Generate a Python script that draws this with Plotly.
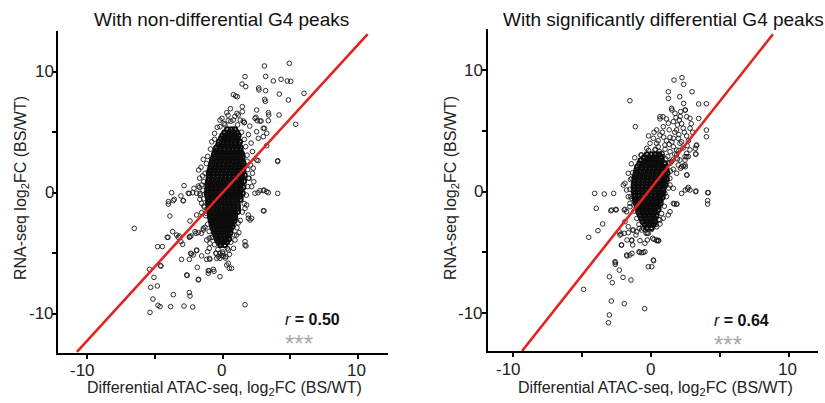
import plotly.graph_objects as go

# ---------------- data ----------------
titles = ["With non-differential G4 peaks", "With significantly differential G4 peaks"]
x_title = "Differential ATAC-seq, log<sub>2</sub>FC (BS/WT)"
y_title = "RNA-seq log<sub>2</sub>FC (BS/WT)"
r_values = ["0.50", "0.64"]
signif = "***"
tick_vals = [-10, 0, 10]
tick_text = ["-10", "0", "10"]
minor_vals = [-5, 5]

# regression lines (end points)
left_fit_x = [-10.75, 10.7]
left_fit_y = [-13.15, 13.1]
right_fit_x = [-9.38, 8.83]
right_fit_y = [-13.13, 12.98]

# dense core of left panel: rows of (y, [x ...])
left_core_rows = [
    (5.2, [0.35, 0.65, 0.9]),
    (4.95, [0.15, 0.45, 0.75, 1.05]),
    (4.7, [0.0, 0.3, 0.6, 0.9, 1.15]),
    (4.45, [-0.1, 0.2, 0.5, 0.8, 1.1]),
    (4.2, [-0.25, 0.05, 0.35, 0.65, 0.95, 1.25]),
    (3.95, [-0.3, 0.0, 0.3, 0.6, 0.9, 1.2]),
    (3.7, [-0.45, -0.15, 0.15, 0.45, 0.75, 1.05, 1.3]),
    (3.45, [-0.5, -0.2, 0.1, 0.4, 0.7, 1.0, 1.3]),
    (3.2, [-0.6, -0.3, 0.0, 0.3, 0.6, 0.9, 1.2, 1.4]),
    (2.95, [-0.65, -0.35, -0.05, 0.25, 0.55, 0.85, 1.15, 1.45]),
    (2.7, [-0.75, -0.45, -0.15, 0.15, 0.45, 0.75, 1.05, 1.35]),
    (2.45, [-0.8, -0.5, -0.2, 0.1, 0.4, 0.7, 1.0, 1.3, 1.5]),
    (2.2, [-0.85, -0.55, -0.25, 0.05, 0.35, 0.65, 0.95, 1.25, 1.55]),
    (1.95, [-0.9, -0.6, -0.3, 0.0, 0.3, 0.6, 0.9, 1.2, 1.5]),
    (1.7, [-0.95, -0.65, -0.35, -0.05, 0.25, 0.55, 0.85, 1.15, 1.45]),
    (1.45, [-1.0, -0.7, -0.4, -0.1, 0.2, 0.5, 0.8, 1.1, 1.4, 1.6]),
    (1.2, [-1.0, -0.7, -0.4, -0.1, 0.2, 0.5, 0.8, 1.1, 1.4]),
    (0.95, [-1.05, -0.75, -0.45, -0.15, 0.15, 0.45, 0.75, 1.05, 1.35, 1.55]),
    (0.7, [-1.1, -0.8, -0.5, -0.2, 0.1, 0.4, 0.7, 1.0, 1.3]),
    (0.45, [-1.1, -0.8, -0.5, -0.2, 0.1, 0.4, 0.7, 1.0, 1.3, 1.5]),
    (0.2, [-1.1, -0.8, -0.5, -0.2, 0.1, 0.4, 0.7, 1.0, 1.3]),
    (-0.05, [-1.15, -0.85, -0.55, -0.25, 0.05, 0.35, 0.65, 0.95, 1.25, 1.45]),
    (-0.3, [-1.1, -0.8, -0.5, -0.2, 0.1, 0.4, 0.7, 1.0, 1.3]),
    (-0.55, [-1.05, -0.75, -0.45, -0.15, 0.15, 0.45, 0.75, 1.05, 1.3]),
    (-0.8, [-1.05, -0.75, -0.45, -0.15, 0.15, 0.45, 0.75, 1.05]),
    (-1.05, [-1.0, -0.7, -0.4, -0.1, 0.2, 0.5, 0.8, 1.1]),
    (-1.3, [-1.0, -0.7, -0.4, -0.1, 0.2, 0.5, 0.8, 1.1]),
    (-1.55, [-0.95, -0.65, -0.35, -0.05, 0.25, 0.55, 0.85, 1.1]),
    (-1.8, [-0.9, -0.6, -0.3, 0.0, 0.3, 0.6, 0.9]),
    (-2.05, [-0.9, -0.6, -0.3, 0.0, 0.3, 0.6, 0.9]),
    (-2.3, [-0.85, -0.55, -0.25, 0.05, 0.35, 0.65, 0.85]),
    (-2.55, [-0.8, -0.5, -0.2, 0.1, 0.4, 0.7]),
    (-2.8, [-0.75, -0.45, -0.15, 0.15, 0.45, 0.7]),
    (-3.05, [-0.65, -0.35, -0.05, 0.25, 0.55]),
    (-3.3, [-0.6, -0.3, 0.0, 0.3, 0.55]),
    (-3.55, [-0.5, -0.2, 0.1, 0.4]),
    (-3.8, [-0.4, -0.1, 0.2, 0.45]),
    (-4.05, [-0.3, 0.0, 0.3]),
    (-4.3, [-0.15, 0.15]),
]

# scattered points of left panel (x, y)
left_points = [
    (4.92, 10.69), (3.08, 10.47), (1.65, 9.59), (3.17, 9.61), (4.31, 9.37), (3.74, 9.23), (4.77, 9.23),
    (5.02, 9.20), (1.43, 8.98), (1.70, 8.76), (2.66, 8.65), (2.68, 8.49), (3.17, 8.43), (6.0, 8.21),
    (4.18, 8.15), (0.79, 8.10), (0.96, 7.99), (1.08, 7.93), (3.10, 7.71), (3.15, 7.55), (4.85, 7.66),
    (1.45, 7.11), (0.57, 6.94), (2.51, 6.83), (3.37, 6.61), (1.45, 6.69), (1.06, 6.56), (4.16, 6.42),
    (-0.05, 6.14), (2.39, 6.14), (2.76, 5.92), (1.60, 5.79), (5.39, 5.65), (3.08, 5.32), (2.51, 5.04),
    (3.0, 4.63), (3.25, 3.88), (4.06, 2.64), (4.06, 2.58), (2.61, 2.64),
    (0.30, 6.61), (1.15, 6.42), (0.41, 5.95), (0.78, 6.0), (1.52, 5.92), (2.46, 6.23), (2.55, 5.95),
    (2.83, 5.92), (3.37, 5.95), (3.0, 5.32), (3.25, 4.91), (-0.59, 4.41), (-0.2, 5.45), (0.17, 5.6),
    (2.63, 4.49), (3.4, 6.42),
    (2.61, 0.0), (3.0, 0.17), (3.25, 0.08), (4.06, -0.06), (3.0, -1.49), (2.02, -2.26), (1.9, -2.12),
    (2.51, 2.7), (2.26, 2.02), (1.96, 1.19), (2.14, 0.5), (1.77, -1.02), (1.65, -1.29), (1.89, -1.84),
    (2.14, -2.12), (2.38, -0.05), (2.75, 0.17), (3.05, 0.22), (3.37, 0.0), (3.05, -1.51),
    (-6.52, -2.95), (-3.76, 0.0), (-3.64, -0.66), (-4.0, -0.74), (-4.0, -0.94), (-2.9, -0.66),
    (-2.85, 0.58), (-2.46, -0.06), (-2.12, 0.36), (-1.72, 0.44), (-1.77, 1.87), (-1.43, 2.75),
    (-1.67, -0.06), (-3.08, -0.27), (-2.54, -0.05), (-2.21, 0.0), (-1.8, 0.55), (-1.55, 0.64),
    (-1.48, 1.38), (-1.06, 1.74), (-1.92, -0.05), (-1.68, -0.55), (-1.55, -0.88), (-1.38, -1.1),
    (-3.57, -0.55), (-2.91, -0.66),
    (-3.89, -1.93), (-2.41, -2.34), (-3.69, -3.22), (-4.03, -3.69), (-3.2, -3.58), (-2.95, -4.27),
    (-2.41, -3.64), (-1.97, -3.36), (-1.57, -3.36), (-1.43, -3.09), (-4.8, -4.46), (-4.45, -4.46),
    (-3.03, -5.51), (-2.31, -5.07), (-1.92, -4.79), (-2.46, -5.51), (-1.18, -5.51), (-0.98, -5.43),
    (-4.55, -6.06), (-5.39, -6.34), (-5.07, -7.0), (-4.82, -7.71), (-5.31, -7.82), (-1.87, -6.17),
    (-1.06, -6.45), (-0.69, -6.34), (-2.61, -6.83), (-1.77, -7.16), (-0.2, -6.94), (-5.14, -8.79),
    (-3.64, -8.43), (-2.46, -8.26), (-2.41, -8.54), (-4.77, -9.31), (-4.62, -9.42), (-5.36, -9.89),
    (-3.84, -9.42), (-2.85, -9.37), (-2.21, -9.45), (1.65, -9.26),
    (0.30, -5.98), (0.49, -6.25), (0.66, -6.25), (0.42, -5.84), (-0.2, -5.01), (-0.44, -5.43),
    (1.65, -4.05), (1.65, -4.33), (0.42, -4.74),
    (-1.92, -1.84), (-1.55, -1.65), (-1.14, -1.37), (-1.23, -1.7), (-1.43, -2.95), (-1.31, -2.86),
    (-2.46, -3.69), (-2.34, -3.58), (-2.04, -3.22), (-1.8, -3.3), (-1.18, -3.91), (-0.99, -3.77),
    (-0.74, -3.69), (-0.44, -3.97), (-0.2, -4.18), (1.03, -3.5), (0.91, -3.91), (1.72, -4.4),
    (-1.92, -4.74), (-2.36, -5.01), (-2.17, -5.15), (-1.11, -4.88), (-1.55, -5.23), (-0.94, -5.5),
    (-0.94, -4.18), (-0.99, -4.6), (-0.49, -5.01), (-0.32, -5.29), (0.0, -5.01), (0.24, -5.29),
    (0.05, -5.23), (-0.2, -5.42), (-1.01, -6.45), (-0.64, -6.5), (-1.06, -6.66), (-2.66, -6.8),
    (-1.8, -7.21), (-4.6, -6.03), (-3.39, -3.5), (-3.28, -3.69), (-3.08, -4.05), (-4.09, -3.69),
    (-0.6, 4.9), (-0.4, 5.4), (0.1, 5.7), (0.6, 5.9), (1.1, 5.6), (1.4, 5.0), (1.6, 4.4), (1.7, 3.8),
    (1.8, 3.1), (-0.8, 4.2), (-0.9, 3.6), (0.9, 6.3), (1.3, 6.0), (1.9, 4.8), (2.1, 4.1), (2.2, 3.4),
    (-0.2, 6.0), (0.4, 6.4), (2.0, 5.5), (1.6, 5.8),
    (-1.1, 3.0), (-1.2, 2.4), (-1.3, 1.6), (-1.4, 0.9), (-1.45, 0.2), (-1.4, -0.5), (-1.35, -1.2),
    (-1.25, -1.9), (1.8, 2.6), (1.85, 1.9), (1.9, 1.2), (1.85, 0.5), (1.75, -0.2), (1.6, -0.9),
    (1.45, -1.6), (1.3, -2.3), (2.2, 1.6), (2.3, 0.9), (-1.7, 1.2), (-1.6, 2.1), (2.05, 2.3), (-1.65, -0.2),
    (-1.1, -2.6), (-1.0, -3.2), (-0.85, -3.7), (-0.6, -4.3), (-0.35, -4.7), (0.0, -4.9), (0.35, -4.6),
    (0.6, -4.1), (0.85, -3.5), (1.05, -2.9), (1.15, -2.5), (-0.1, -5.2), (0.2, -5.4), (0.5, -5.1),
    (0.8, -4.6), (1.2, -3.3), (-0.5, -5.0),
]

# dense core of right panel: rows of (y, [x ...])
right_core_rows = [
    (3.05, [-0.3, 0.0, 0.3, 0.55]),
    (2.8, [-0.5, -0.2, 0.1, 0.4, 0.7]),
    (2.55, [-0.75, -0.45, -0.15, 0.15, 0.45, 0.75]),
    (2.3, [-0.85, -0.55, -0.25, 0.05, 0.35, 0.65, 0.95]),
    (2.05, [-1.0, -0.7, -0.4, -0.1, 0.2, 0.5, 0.8, 1.05]),
    (1.8, [-1.05, -0.75, -0.45, -0.15, 0.15, 0.45, 0.75, 1.05]),
    (1.55, [-1.1, -0.8, -0.5, -0.2, 0.1, 0.4, 0.7, 1.0, 1.15]),
    (1.3, [-1.15, -0.85, -0.55, -0.25, 0.05, 0.35, 0.65, 0.95]),
    (1.05, [-1.2, -0.9, -0.6, -0.3, 0.0, 0.3, 0.6, 0.9, 1.1]),
    (0.8, [-1.2, -0.9, -0.6, -0.3, 0.0, 0.3, 0.6, 0.9]),
    (0.55, [-1.25, -0.95, -0.65, -0.35, -0.05, 0.25, 0.55, 0.85, 1.0]),
    (0.3, [-1.25, -0.95, -0.65, -0.35, -0.05, 0.25, 0.55, 0.85]),
    (0.05, [-1.25, -0.95, -0.65, -0.35, -0.05, 0.25, 0.55, 0.85]),
    (-0.2, [-1.2, -0.9, -0.6, -0.3, 0.0, 0.3, 0.6, 0.8]),
    (-0.45, [-1.2, -0.9, -0.6, -0.3, 0.0, 0.3, 0.6, 0.8]),
    (-0.7, [-1.15, -0.85, -0.55, -0.25, 0.05, 0.35, 0.65]),
    (-0.95, [-1.1, -0.8, -0.5, -0.2, 0.1, 0.4, 0.65]),
    (-1.2, [-1.0, -0.7, -0.4, -0.1, 0.2, 0.5]),
    (-1.45, [-0.95, -0.65, -0.35, -0.05, 0.25, 0.5]),
    (-1.7, [-0.9, -0.6, -0.3, 0.0, 0.3]),
    (-1.95, [-0.8, -0.5, -0.2, 0.1, 0.35]),
    (-2.2, [-0.7, -0.4, -0.1, 0.2]),
    (-2.45, [-0.6, -0.3, 0.0, 0.25]),
    (-2.7, [-0.45, -0.15, 0.15]),
    (-2.95, [-0.3, 0.0]),
]

# scattered points of right panel (x, y)
right_points = [
    (2.23, 9.40), (1.65, 9.20), (2.35, 8.85), (1.24, 8.24), (2.96, 8.24), (1.24, 7.69), (2.06, 7.83),
    (-1.55, 7.5), (2.35, 7.28), (3.44, 7.23), (4.0, 7.25), (1.5, 6.73), (2.47, 6.73), (0.85, 6.18),
    (3.44, 6.04), (-1.16, 5.36), (4.0, 5.08), (4.0, 4.53), (3.27, 3.79), (3.22, 3.1), (2.57, 2.88),
    (2.47, 2.06), (2.59, 1.37), (3.22, 0.0), (4.09, -0.08), (4.09, -0.74), (4.09, -1.02), (2.47, 0.14),
    (2.64, 0.22), (1.67, -1.02), (1.86, -1.02),
    (-4.11, -0.14), (-3.41, -0.19), (-2.73, -0.14), (-3.99, -1.37), (-2.94, -1.57), (-2.56, -1.51),
    (-1.96, -1.51), (-3.53, -2.66), (-3.87, -3.21), (-4.54, -3.76), (-2.2, -3.49), (-2.17, -4.40),
    (-1.76, -3.98), (-1.40, -5.08), (-1.76, -5.30), (-0.85, -5.0), (-0.58, -5.0), (-2.61, -5.85),
    (-2.61, -5.99), (-2.32, -6.46), (-0.22, -6.18), (0.03, -6.18), (0.17, -5.69), (-3.04, -7.01),
    (-2.83, -7.5), (-2.05, -7.06), (-1.47, -7.28), (-4.91, -8.05), (-2.9, -9.01), (-1.96, -9.23),
    (-0.48, -9.64), (-3.04, -10.16), (-3.11, -10.8), (0.42, -3.98), (0.54, -4.04), (-0.43, -3.16),
    (-0.22, -3.43),
    (1.48, 6.87), (0.63, 6.18), (0.63, 6.0), (1.72, 6.46), (2.13, 6.6), (2.45, 6.73), (2.57, 6.18),
    (2.81, 6.05), (2.03, 5.91), (1.6, 5.77), (1.24, 5.64), (0.87, 5.36), (0.39, 5.09), (1.84, 5.09),
    (2.32, 5.23), (2.81, 5.23), (0.63, 4.67), (1.36, 4.48), (1.96, 4.40), (2.57, 4.59), (0.15, 4.40),
    (-0.09, 3.99), (0.39, 3.99), (0.99, 3.85), (1.6, 3.71), (2.08, 3.99), (3.29, 3.85), (3.2, 3.57),
    (2.81, 3.44), (2.57, 3.16), (2.45, 2.89), (1.84, 3.44), (1.36, 3.3), (0.75, 3.16), (0.27, 3.44),
    (-0.33, 3.58), (-0.7, 3.03), (2.08, 2.61), (1.48, 2.5), (2.2, 2.06), (2.45, 2.2),
    (0.5, 4.2), (0.8, 4.9), (1.1, 4.2), (1.3, 5.1), (1.7, 4.9), (1.9, 5.5), (2.2, 5.6), (2.4, 4.9),
    (2.0, 4.7), (1.5, 4.1), (1.0, 3.5), (1.2, 2.9), (1.7, 3.1), (2.3, 3.6), (2.6, 3.8), (0.5, 3.7),
    (0.8, 2.9), (1.9, 2.7), (2.7, 4.2), (3.0, 4.9), (2.1, 6.2), (1.1, 6.0), (1.8, 6.1), (2.9, 5.6),
    (0.2, 4.9), (-0.2, 4.6), (0.9, 4.5), (1.6, 4.4), (2.2, 4.1), (1.3, 3.9), (0.6, 3.3), (2.0, 3.4),
    (-0.75, 3.03), (3.24, 3.11), (2.69, 2.89), (2.45, 2.61), (2.32, 2.12), (2.13, 1.93), (2.57, 1.38),
    (1.84, 1.52), (1.6, 1.85), (1.96, 2.2), (2.81, 0.14), (2.69, 0.36), (3.24, 0.06), (4.14, -0.08),
    (2.2, -0.14), (1.6, -0.96), (1.84, -1.01), (1.36, -1.65), (0.87, -2.19), (0.63, -2.33), (1.23, -1.92),
    (-1.67, 1.52), (-1.35, 1.57), (-1.06, 1.46), (-2.03, 0.55), (-1.79, 0.14), (-1.67, -0.41),
    (-2.87, -1.51), (-2.56, -1.45), (-1.91, -1.45), (-1.55, -1.24), (-1.26, -1.1), (-2.27, -3.57),
    (-1.91, -2.47), (-1.67, -2.89), (-1.35, -3.16), (-1.06, -3.3), (-0.7, -3.16), (-0.38, -3.43),
    (-1.42, -3.98), (-1.35, -4.39), (-0.82, -4.04), (-0.29, -3.98), (0.2, -3.92), (0.51, -4.04),
    (0.03, -3.1), (0.39, -2.89), (0.63, -2.66), (-1.42, -0.55), (-1.55, -0.96), (-1.79, -1.65),
    (-1.91, 0.69), (-1.42, 1.1), (1.12, 0.82), (1.36, 0.55), (1.6, 0.28), (0.99, -0.14), (0.63, -0.68),
    (1.84, 3.03), (1.6, 2.67), (1.36, 2.34), (1.12, 1.93), (0.75, 1.65),
    (-2.15, -4.39), (-1.42, -4.04), (-0.89, -4.95), (-0.7, -5.03), (-0.46, -4.95), (-0.46, -4.25),
    (-1.79, -5.22), (-1.55, -5.22), (0.15, -5.63), (-2.63, -5.77), (-2.32, -3.3), (-1.96, -3.43),
    (-1.67, -3.38), (-1.3, -3.16), (-0.87, -3.02), (-1.11, -3.57), (-0.29, -3.43), (0.1, -3.84),
    (0.39, -4.04),
    (-1.45, 2.3), (-1.5, 1.0), (-1.55, 0.2), (-1.5, -0.4), (1.3, 2.4), (1.4, 1.7), (1.35, 1.1),
    (1.25, 0.3), (1.1, -0.4), (0.95, -1.2), (0.75, -1.8), (0.55, -2.3), (-1.25, -1.6), (-1.05, -2.2),
    (-0.9, -2.7), (-0.6, -3.0), (0.35, -2.7), (-0.2, 3.4), (0.3, 3.5), (0.8, 3.1), (-1.2, 2.8), (1.05, 2.7),
]


def rows_to_xy(rows):
    xs, ys = [], []
    for y, row in rows:
        for x in row:
            xs.append(x)
            ys.append(y)
    return xs, ys


def pts_to_xy(pts):
    return [p[0] for p in pts], [p[1] for p in pts]


FONT = "Liberation Sans, Arial, Helvetica, sans-serif"
marker_pts = dict(symbol="circle-open", size=4.6, color="rgba(25,25,25,0.9)", line=dict(width=1))
marker_core = dict(symbol="circle-open", size=5, color="rgb(12,12,12)", line=dict(width=1.9))
red = "#e2231f"

fig = go.Figure()
panels = [("x", "y", left_core_rows, left_points, left_fit_x, left_fit_y),
          ("x2", "y2", right_core_rows, right_points, right_fit_x, right_fit_y)]
for xa, ya, core_rows, pts, fx, fy in panels:
    cx, cy = rows_to_xy(core_rows)
    px, py = pts_to_xy(pts)
    fig.add_trace(go.Scatter(x=px, y=py, mode="markers", marker=marker_pts, xaxis=xa, yaxis=ya,
                             showlegend=False, hoverinfo="skip"))
    fig.add_trace(go.Scatter(x=cx, y=cy, mode="markers", marker=marker_core, xaxis=xa, yaxis=ya,
                             showlegend=False, hoverinfo="skip"))
    fig.add_trace(go.Scatter(x=fx, y=fy, mode="lines", line=dict(color=red, width=2.6),
                             xaxis=xa, yaxis=ya, showlegend=False, hoverinfo="skip"))

W, H = 825, 403


def axis_common():
    return dict(showline=True, linewidth=2, linecolor="black", ticks="outside", ticklen=4, tickwidth=2,
                tickcolor="black", showgrid=False, zeroline=False, tickvals=tick_vals,
                showticklabels=False, automargin=False,
                minor=dict(tickvals=minor_vals, ticks="outside", ticklen=4, tickwidth=2, tickcolor="black",
                           showgrid=False))


fig.update_layout(
    width=W, height=H,
    margin=dict(l=0, r=0, t=0, b=0),
    paper_bgcolor="white", plot_bgcolor="white",
    font=dict(family=FONT, color="#222"),
    xaxis=dict(**axis_common(), domain=[58 / W, 388 / W], range=[-12.15, 12.2], anchor="y"),
    yaxis=dict(**axis_common(), domain=[(H - 353) / H, (H - 31) / H], range=[-13.25, 13.36], anchor="x"),
    xaxis2=dict(**axis_common(), domain=[488 / W, 818 / W], range=[-11.85, 12.1], anchor="y2"),
    yaxis2=dict(**axis_common(), domain=[(H - 351) / H, (H - 29) / H], range=[-13.13, 13.41], anchor="x2"),
)


def px_x(p):
    return p / W


def px_y(p):
    return 1 - p / H


tick_font = dict(family=FONT, size=17, color="#222")
ann = []
# tick labels (drawn at the axis tick values)
for xr, yr, ylab_px, xlab_px in [("x", "y", 56, 370), ("x2", "y2", 485, 369)]:
    for v, t in zip(tick_vals, tick_text):
        shift = -0.35 if v < 0 else (-0.15 if v > 0 else -0.05)
        ann.append(dict(text=t, x=v + shift, y=px_y(xlab_px), xref=xr, yref="paper", showarrow=False,
                        xanchor="center", yanchor="middle", font=tick_font))
        ann.append(dict(text=t, x=px_x(ylab_px), y=v, xref="paper", yref=yr, showarrow=False,
                        xanchor="right", yanchor="middle", font=tick_font))
# panel titles
for txt, cx in [(titles[0], 221), (titles[1], 663.5)]:
    ann.append(dict(text=txt, x=px_x(cx), y=px_y(19), xref="paper", yref="paper", showarrow=False,
                    xanchor="center", yanchor="middle", font=dict(family=FONT, size=19, color="#111")))
# axis titles
for cx in [224, 655]:
    ann.append(dict(text=x_title, x=px_x(cx), y=px_y(388), xref="paper", yref="paper", showarrow=False,
                    xanchor="center", yanchor="middle", font=dict(family=FONT, size=16, color="#222")))
for cx in [22, 452]:
    ann.append(dict(text=y_title, x=px_x(cx), y=px_y(188), xref="paper", yref="paper", showarrow=False,
                    textangle=-90, xanchor="center", yanchor="middle",
                    font=dict(family=FONT, size=16, color="#222")))
# correlation labels
for xr, yr, xpos, ypos, ypos2, rv in [("x", "y", 4.45, -10.52, -12.5, r_values[0]),
                                       ("x2", "y2", 4.4, -10.58, -12.56, r_values[1])]:
    ann.append(dict(text="<i>r</i><b> = " + rv + "</b>", x=xpos, y=ypos, xref=xr, yref=yr, showarrow=False,
                    xanchor="left", yanchor="middle", font=dict(family=FONT, size=16, color="#111")))
    ann.append(dict(text=signif, x=xpos, y=ypos2, xref=xr, yref=yr, showarrow=False,
                    xanchor="left", yanchor="middle", font=dict(family=FONT, size=24, color="#a8a8a8")))
fig.update_layout(annotations=ann)

fig.write_html("out.html", config={"displayModeBar": False},
               post_script="document.body.style.margin='0';document.body.style.padding='0';")
